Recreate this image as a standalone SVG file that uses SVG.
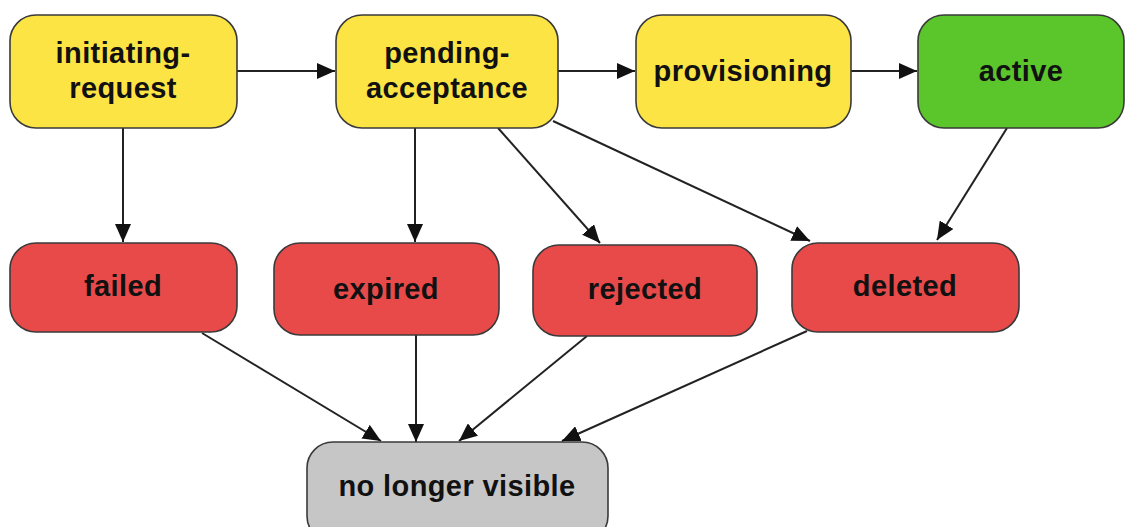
<svg xmlns="http://www.w3.org/2000/svg" width="1147" height="527" viewBox="0 0 1147 527">
  <defs>
    <style>
      .node rect { stroke: #3a3a3a; stroke-width: 1.6; }
      .pending rect { fill: #fde445; }
      .ok rect { fill: #5bc62b; }
      .end rect { fill: #e84a4a; }
      .gone rect { fill: #c6c6c6; }
      .node text { font-family: "Liberation Sans", Arial, Helvetica, sans-serif; font-weight: bold; font-size: 29px; letter-spacing: 0.4px; fill: #111; text-anchor: middle; }
      #edges line { stroke: #222; stroke-width: 2; marker-end: url(#arrow); }
    </style>
    <marker id="arrow" markerUnits="userSpaceOnUse" markerWidth="20" markerHeight="16" refX="18" refY="8" orient="auto">
      <path d="M0,0 L18,8 L0,16 Z" fill="#111"/>
    </marker>
  </defs>
  <rect width="1147" height="527" fill="#ffffff"/>

  <g id="edges">
    <line x1="237" y1="71" x2="335" y2="71"/>
    <line x1="558" y1="71" x2="635" y2="71"/>
    <line x1="851" y1="71" x2="917" y2="71"/>
    <line x1="123" y1="128" x2="123" y2="242"/>
    <line x1="415" y1="128" x2="415" y2="242"/>
    <line x1="498" y1="128" x2="600" y2="243"/>
    <line x1="553" y1="121" x2="810" y2="241"/>
    <line x1="1007" y1="128" x2="937" y2="240"/>
    <line x1="202" y1="333" x2="381" y2="441"/>
    <line x1="416" y1="335" x2="416" y2="442"/>
    <line x1="587" y1="336" x2="459" y2="441"/>
    <line x1="807" y1="331" x2="562" y2="441"/>
  </g>

  <g id="initiating-request" class="node pending">
    <rect x="10" y="15" width="227" height="113" rx="26"/>
    <text x="123" y="63">initiating-</text>
    <text x="123" y="98">request</text>
  </g>
  <g id="pending-acceptance" class="node pending">
    <rect x="336" y="15" width="222" height="113" rx="26"/>
    <text x="447" y="63">pending-</text>
    <text x="447" y="98">acceptance</text>
  </g>
  <g id="provisioning" class="node pending">
    <rect x="636" y="15" width="215" height="113" rx="26"/>
    <text x="743" y="81">provisioning</text>
  </g>
  <g id="active" class="node ok">
    <rect x="918" y="15" width="206" height="113" rx="26"/>
    <text x="1021" y="81">active</text>
  </g>

  <g id="failed" class="node end">
    <rect x="10" y="243" width="227" height="89" rx="26"/>
    <text x="123" y="296">failed</text>
  </g>
  <g id="expired" class="node end">
    <rect x="274" y="243" width="225" height="92" rx="26"/>
    <text x="386" y="299">expired</text>
  </g>
  <g id="rejected" class="node end">
    <rect x="533" y="245" width="224" height="91" rx="26"/>
    <text x="645" y="299">rejected</text>
  </g>
  <g id="deleted" class="node end">
    <rect x="792" y="243" width="227" height="89" rx="26"/>
    <text x="905" y="296">deleted</text>
  </g>

  <g id="no-longer-visible" class="node gone">
    <rect x="307" y="442" width="301" height="100" rx="26"/>
    <text x="457" y="496">no longer visible</text>
  </g>
</svg>
